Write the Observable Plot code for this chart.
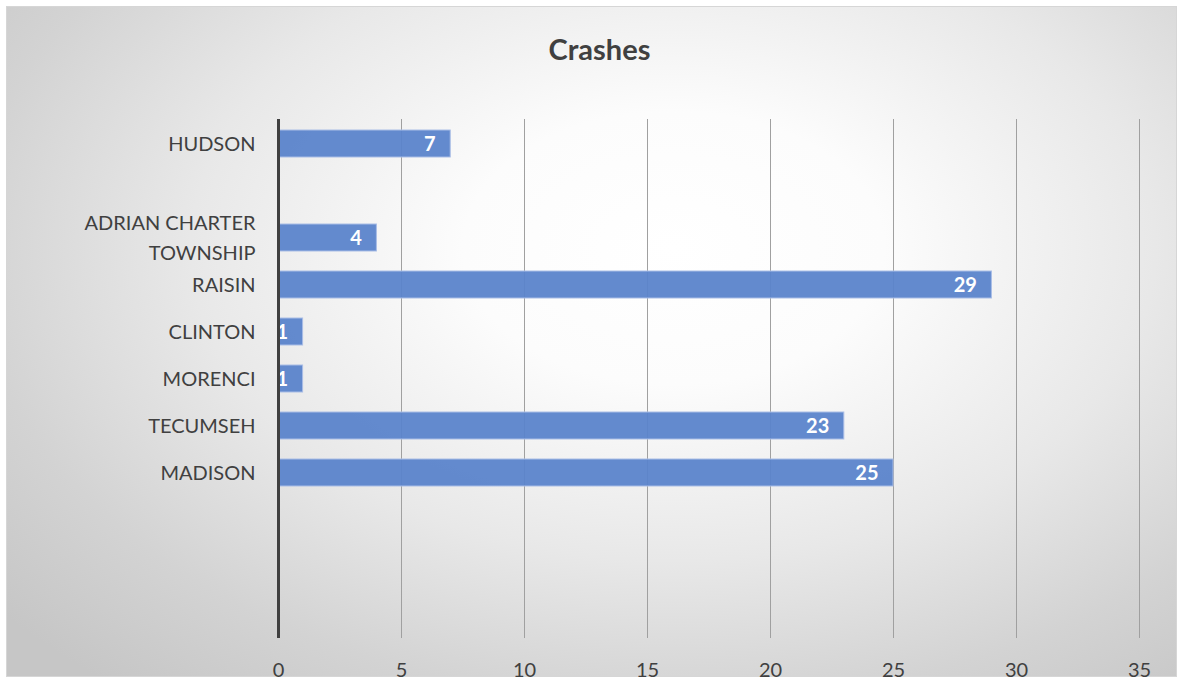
<!DOCTYPE html>
<html>
<head>
<meta charset="utf-8">
<script src="https://cdn.jsdelivr.net/npm/d3@7"></script>
<script src="https://cdn.jsdelivr.net/npm/@observablehq/plot@0.6"></script>
<style>
  html, body { margin: 0; padding: 0; background: #ffffff; }
  #frame {
    position: absolute; left: 6px; top: 6px; width: 1171px; height: 671px;
    box-sizing: border-box; border: 1px solid #d6d6d6;
    background: radial-gradient(ellipse 75% 85% at 57% 36%, #ffffff 0%, #fcfcfc 24%, #e8e8e8 55%, #d3d3d3 80%, #c6c6c6 100%);
    font-family: Lato, "Open Sans", sans-serif;
  }
  #title {
    height: 83px; line-height: 83px; text-align: center; padding-left: 16px;
    font-size: 29px; font-weight: bold; color: #404040;
  }
  #chart svg { display: block; background: transparent; overflow: visible; }
</style>
</head>
<body>
<div id="frame">
  <div id="title">Crashes</div>
  <div id="chart"></div>
</div>
<script>
const categories = ["HUDSON", "", "ADRIAN CHARTER\nTOWNSHIP", "RAISIN", "CLINTON", "MORENCI", "TECUMSEH", "MADISON", "", "", ""];
const values = [7, null, 4, 29, 1, 1, 23, 25, null, null, null];
const xTicks = [0, 5, 10, 15, 20, 25, 30, 35];

const keys = categories.map((c, i) => "k" + i);
const labelOf = new Map(keys.map((k, i) => [k, categories[i]]));
const data = keys.map((k, i) => ({key: k, value: values[i]})).filter(d => d.value != null);

const plot = Plot.plot({
  width: 1169,
  height: 592,
  marginLeft: 271,
  marginRight: 37,
  marginTop: 29,
  marginBottom: 44,
  style: {background: "transparent", fontFamily: "Lato, 'Open Sans', sans-serif", color: "#404040", overflow: "visible"},
  x: {domain: [0, 35], ticks: xTicks},
  y: {domain: keys, paddingInner: 0.43, paddingOuter: 0.215},
  marks: [
    Plot.gridX(xTicks.filter(t => t > 0), {stroke: "#a0a0a0", strokeOpacity: 1, strokeWidth: 1}),
    Plot.axisX({ticks: xTicks, tickSize: 0, tickPadding: 24, fontSize: 20, fill: "#404040", label: null}),
    Plot.axisY({tickSize: 0, tickPadding: 23, fontSize: 20, fill: "#404040", lineHeight: 1.5, dy: -3, label: null,
      tickFormat: k => labelOf.get(k)}),
    Plot.barX(data, {x: "value", y: "key", fill: "#5b84cb", fillOpacity: 0.95, stroke: "#a9bde6", strokeWidth: 1}),
    Plot.text(data, {x: "value", y: "key", text: d => String(d.value), textAnchor: "end", lineAnchor: "middle", dx: -15, dy: 1, fill: "white", fontWeight: "bold", fontSize: 20}),
    Plot.ruleX([0], {stroke: "#404040", strokeWidth: 3})
  ]
});
document.getElementById("chart").appendChild(plot);
</script>
</body>
</html>
